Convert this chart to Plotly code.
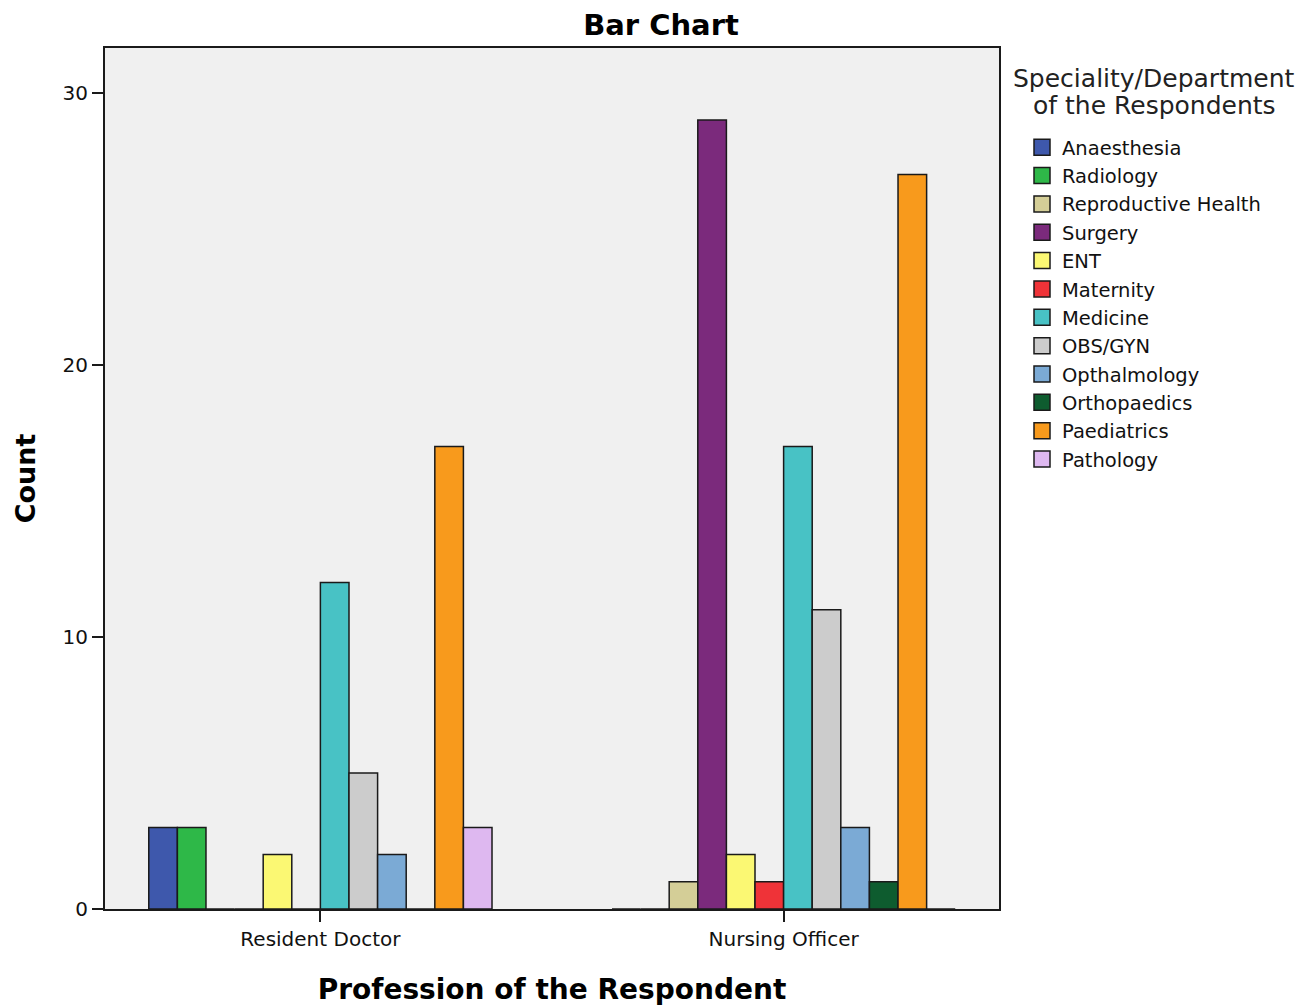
import plotly.graph_objects as go

professions = ["Resident Doctor", "Nursing Officer"]
departments = ["Anaesthesia", "Radiology", "Reproductive Health", "Surgery", "ENT",
               "Maternity", "Medicine", "OBS/GYN", "Opthalmology", "Orthopaedics",
               "Paediatrics", "Pathology"]
resident_doctor = [3, 3, 0, 0, 2, 0, 12, 5, 2, 0, 17, 3]
nursing_officer = [0, 0, 1, 29, 2, 1, 17, 11, 3, 1, 27, 0]
colors = ["#3E58AC", "#2EB848", "#D4CE97", "#7B2A7C", "#FBF873", "#EF3338",
          "#48C2C5", "#CCCCCC", "#7BAAD5", "#0E5C2F", "#F89A1C", "#DEB8F0"]
legend_title_lines = ["Speciality/Department", "of the Respondents"]

FONT = "DejaVu Sans"
W, H = 1306, 999  # page body adds an 8px margin around the figure
L, T = 97, 40
PR, PB = 991, 901  # plot right / bottom in figure px
pw = PR - L
ph = PB - T


def py(y_fig):
    return (PB - y_fig) / ph


def px(x_fig):
    return (x_fig - L) / pw


fig = go.Figure()
for i, dep in enumerate(departments):
    vals = [resident_doctor[i], nursing_officer[i]]
    fig.add_trace(go.Bar(
        x=professions, y=vals, name=dep, showlegend=False,
        marker=dict(color=colors[i], line=dict(color="#1a1a1a", width=1.5)),
    ))
for i, dep in enumerate(departments):
    fig.add_trace(go.Scatter(
        x=[None], y=[None], mode="markers", name=dep,
        marker=dict(symbol="square", size=20, color=colors[i],
                    line=dict(color="#1a1a1a", width=1.5)),
    ))

for k, line in enumerate(legend_title_lines):
    fig.add_annotation(
        text=line, xref="paper", yref="paper",
        x=px(1146), y=py(54 + 27 * k), xanchor="center", yanchor="top",
        showarrow=False, align="center",
        font=dict(family=FONT, size=25, color="#222222"),
    )

fig.update_layout(
    width=W, height=H,
    barmode="group", bargap=0.259, bargroupgap=0,
    paper_bgcolor="white", plot_bgcolor="#F0F0F0",
    margin=dict(l=L, r=W - PR, t=T, b=H - PB, autoexpand=False),
    font=dict(family=FONT, color="#111111"),
    title=dict(text="<b>Bar Chart</b>", x=0.5, xref="container", y=1 - 16.5 / H, yanchor="middle",
               font=dict(family=FONT, size=29, color="#000000")),
    legend=dict(
        x=px(1014), xanchor="left", y=py(120), yanchor="top",
        font=dict(family=FONT, size=19.5, color="#111111"),
        itemsizing="trace", tracegroupgap=0, bgcolor="rgba(0,0,0,0)",
    ),
    xaxis=dict(
        type="category", range=[-0.465, 1.465], automargin=False,
        showline=True, linecolor="#1a1a1a", linewidth=2, mirror=True,
        ticks="outside", ticklen=11, tickcolor="#1a1a1a", tickwidth=1.5,
        showgrid=False, zeroline=False,
        tickfont=dict(family=FONT, size=20, color="#111111"),
        title=dict(text="<b>Profession of the Respondent</b>", standoff=29,
                   font=dict(family=FONT, size=28, color="#000000")),
    ),
    yaxis=dict(
        range=[0, 31.65], tickvals=[0, 10, 20, 30], automargin=False,
        showline=True, linecolor="#1a1a1a", linewidth=2, mirror=True,
        ticks="outside", ticklen=11, tickcolor="#1a1a1a", tickwidth=1.5,
        showgrid=False, zeroline=False,
        tickfont=dict(family=FONT, size=20, color="#111111"),
        title=dict(text="<b>Count</b>", standoff=19,
                   font=dict(family=FONT, size=27, color="#000000")),
    ),
)

fig.write_html("out.html")
